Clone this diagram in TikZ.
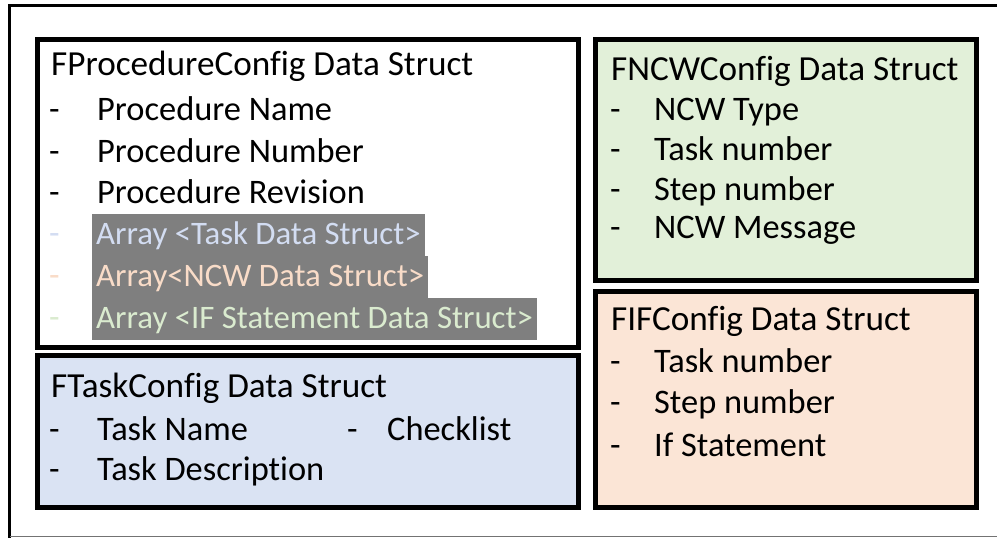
\documentclass[tikz,border=0pt]{standalone}
\usepackage{fontspec}
\setmainfont{Carlito}[Ligatures=NoCommon]
\definecolor{taskfill}{HTML}{DAE3F3}
\definecolor{ncwfill}{HTML}{E2F0D9}
\definecolor{iffill}{HTML}{FBE5D6}
\definecolor{hlgray}{HTML}{7F7F7F}
\definecolor{tasktxt}{HTML}{D3DDF2}
\definecolor{ncwtxt}{HTML}{F9DCC8}
\definecolor{iftxt}{HTML}{DAEBCF}
\begin{document}
\begin{tikzpicture}[x=1pt,y=-1pt,
  structbox/.style={draw=black,line width=5pt},
  txt/.style={anchor=base west,inner sep=0pt,font=\fontsize{34.4}{41}\selectfont},
  title/.style={txt,font=\fontsize{35.2}{41}\selectfont},
  hl/.style={anchor=base west,font=\fontsize{32.8}{41}\selectfont,fill=hlgray,
    inner xsep=4pt,inner ysep=0pt,text height=30pt,text depth=12pt}]
\useasboundingbox (0,0) rectangle (997,538);
\fill[white] (0,0) rectangle (997,538);

% outer frame (continues past the right edge)
\draw[line width=3.5pt] (1003,5.5) -- (9.5,5.5) -- (9.5,541);
\draw[line width=1pt,black!55] (9.5,536.5) -- (1003,536.5);

% boxes
\draw[structbox,fill=white]    (37.5,39.5) rectangle (578,347.5);
\draw[structbox,fill=taskfill] (37.5,355.5) rectangle (578,507.5);
\draw[structbox,fill=ncwfill]  (595,39) rectangle (976.5,280);
\draw[structbox,fill=iffill]   (595,291) rectangle (976.5,507.5);

% FProcedureConfig
\node[title] (ptitle) at (51,75) {FProcedureConfig Data Struct};
\node[txt] (pd1) at (49,120) {-};
\node[txt] (p1) at (97,120) {Procedure Name};
\node[txt] (pd2) at (49,162) {-};
\node[txt] (p2) at (97,162) {Procedure Number};
\node[txt] (pd3) at (49,203) {-};
\node[txt] (p3) at (97,203) {Procedure Revision};
\node[txt,text=tasktxt] (pd4) at (49,244) {-};
\node[hl,text=tasktxt] (p4) at (92,244) {Array <Task Data Struct>};
\node[txt,text=ncwtxt] (pd5) at (49,286) {-};
\node[hl,text=ncwtxt] (p5) at (92,286) {Array<NCW Data Struct>};
\node[txt,text=iftxt] (pd6) at (49,328) {-};
\node[hl,text=iftxt] (p6) at (92,328) {Array <IF Statement Data Struct>};

% FTaskConfig
\node[title] (ttitle) at (51,397) {FTaskConfig Data Struct};
\node[txt] (td1) at (49,440) {-};
\node[txt] (t1) at (97,440) {Task Name};
\node[txt] (td2) at (49,480) {-};
\node[txt] (t2) at (97,480) {Task Description};
\node[txt] (td3) at (347,440) {-};
\node[txt] (t3) at (387,440) {Checklist};

% FNCWConfig
\node[title] (ntitle) at (611,80) {FNCWConfig Data Struct};
\node[txt] (nd1) at (610,120) {-};
\node[txt] (n1) at (654,120) {NCW Type};
\node[txt] (nd2) at (610,160) {-};
\node[txt] (n2) at (654,160) {Task number};
\node[txt] (nd3) at (610,200) {-};
\node[txt] (n3) at (654,200) {Step number};
\node[txt] (nd4) at (610,238) {-};
\node[txt] (n4) at (654,238) {NCW Message};

% FIFConfig
\node[title] (ititle) at (611,330) {FIFConfig Data Struct};
\node[txt] (id1) at (610,372) {-};
\node[txt] (i1) at (654,372) {Task number};
\node[txt] (id2) at (610,413) {-};
\node[txt] (i2) at (654,413) {Step number};
\node[txt] (id3) at (610,456) {-};
\node[txt] (i3) at (654,456) {If Statement};
\end{tikzpicture}
\end{document}
